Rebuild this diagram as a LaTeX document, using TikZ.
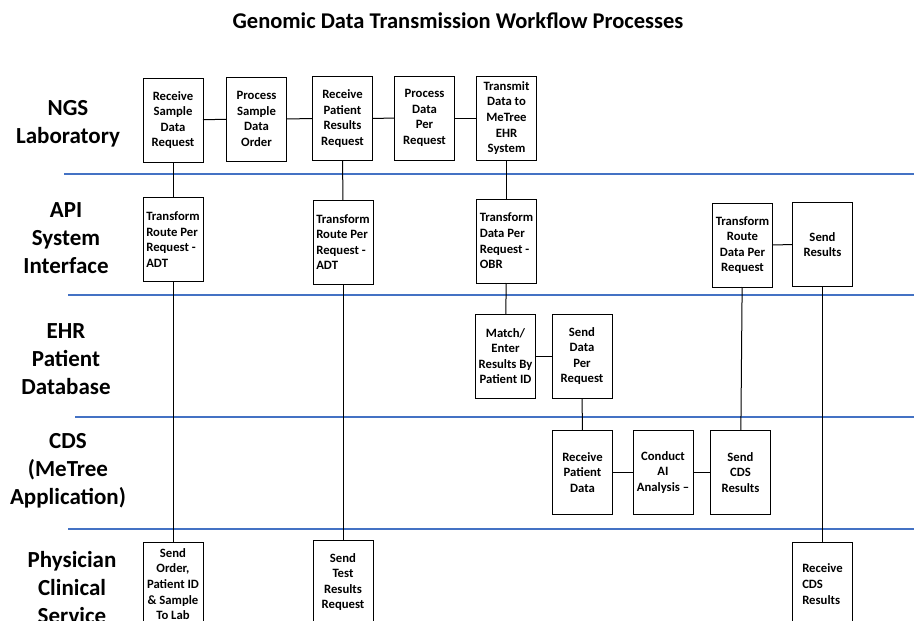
\documentclass[tikz,border=0pt]{standalone}
\usepackage{fontspec}
\setmainfont{Carlito}
\usepackage{tikz,tkz-graph}
\definecolor{laneBlue}{RGB}{68,114,196}
\tikzstyle{stepCenter}=[shape = rectangle, draw, line width = 0.8pt, minimum width = 60pt, minimum height = 84pt, inner sep = 0pt, align = center, font = \bfseries\fontsize{12.7}{15.6}\selectfont]
\tikzstyle{stepLeft}=[stepCenter, align = left]
\tikzstyle{laneLabel}=[shape = rectangle, inner sep = 0pt, align = center, font = \bfseries\fontsize{23}{28}\selectfont]

\begin{document}
\begin{tikzpicture}[x = 1pt, y = -1pt]
\tikzstyle{VertexStyle} = []
\tikzstyle{EdgeStyle} = [line width = 1pt]
\tikzstyle{laneLine} = [laneBlue, line width = 1.4pt]
\tikzstyle{titleStyle} = [inner sep = 0pt, font = \bfseries\fontsize{22.5}{27}\selectfont]
\useasboundingbox (0,0) rectangle (914,621);
\clip (0,0) rectangle (914,621);
\Vertex[style = titleStyle, x = 458, y = 21, L = {Genomic Data Transmission Workflow Processes}]{t0}
% swim lanes
\draw[laneLine] (64,174) -- (914,174);
\draw[laneLine] (68,295) -- (914,295);
\draw[laneLine] (75,417) -- (914,417);
\draw[laneLine] (68,529) -- (914,529);
\Vertex[style = laneLabel, x = 68, y = 124, L = {NGS\\Laboratory}]{l0}
\Vertex[style = laneLabel, x = 66, y = 238, L = {API\\System\\Interface}]{l1}
\Vertex[style = laneLabel, x = 66, y = 359, L = {EHR\\Patient\\Database}]{l2}
\Vertex[style = laneLabel, x = 68, y = 471, L = {CDS\\(MeTree\\Application)}]{l3}
\Vertex[style = laneLabel, x = 72, y = 588, L = {Physician\\Clinical\\Service}]{l4}
% steps
\Vertex[style = stepCenter, x = 173, y = 120, L = {Receive\\Sample\\Data\\Request}]{v0}
\Vertex[style = stepCenter, x = 256.5, y = 119, L = {Process\\Sample\\Data\\Order}]{v1}
\Vertex[style = stepCenter, x = 342.5, y = 118.5, L = {Receive\\Patient\\Results\\Request}]{v2}
\Vertex[style = stepCenter, x = 424.5, y = 118, L = {Process\\Data\\Per\\Request}]{v3}
\Vertex[style = stepCenter, x = 506.5, y = 118, L = {Transmit\\Data to\\MeTree\\EHR\\System}]{v4}
\Vertex[style = stepLeft, x = 173, y = 239.5, L = {Transform\\Route Per\\Request -\\ADT}]{v5}
\Vertex[style = stepLeft, x = 343, y = 242, L = {Transform\\Route Per\\Request -\\ADT}]{v6}
\Vertex[style = stepLeft, x = 506.5, y = 241, L = {Transform\\Data Per\\Request -\\OBR}]{v7}
\Vertex[style = stepCenter, x = 742.5, y = 245, L = {Transform\\Route\\Data Per\\Request}]{v8}
\Vertex[style = stepCenter, x = 822.5, y = 244.5, L = {Send\\Results}]{v9}
\Vertex[style = stepCenter, x = 505.5, y = 356, L = {Match/\\Enter\\Results By\\Patient ID}]{v10}
\Vertex[style = stepCenter, x = 582, y = 356, L = {Send\\Data\\Per\\Request}]{v11}
\Vertex[style = stepCenter, x = 582.5, y = 472.5, L = {Receive\\Patient\\Data}]{v12}
\Vertex[style = stepCenter, x = 663, y = 472.5, L = {Conduct\\AI\\Analysis –}]{v13}
\Vertex[style = stepCenter, x = 740.5, y = 472.5, L = {Send\\CDS\\Results}]{v14}
\Vertex[style = stepCenter, x = 173, y = 584, L = {Send\\Order,\\Patient ID\\\& Sample\\To Lab}]{v15}
\Vertex[style = stepCenter, x = 343, y = 582, L = {Send\\Test\\Results\\Request}]{v16}
\Vertex[style = stepLeft, x = 822.5, y = 584, L = {Receive\\CDS\\Results}]{v17}
\Edge(v0)(v1)
\Edge(v1)(v2)
\Edge(v2)(v3)
\Edge(v3)(v4)
\Edge(v0)(v5)
\Edge(v2)(v6)
\Edge(v4)(v7)
\Edge(v5)(v15)
\Edge(v6)(v16)
\Edge(v7)(v10)
\Edge(v10)(v11)
\Edge(v11)(v12)
\Edge(v12)(v13)
\Edge(v13)(v14)
\Edge(v14)(v8)
\Edge(v8)(v9)
\Edge(v9)(v17)
\end{tikzpicture}
\end{document}
